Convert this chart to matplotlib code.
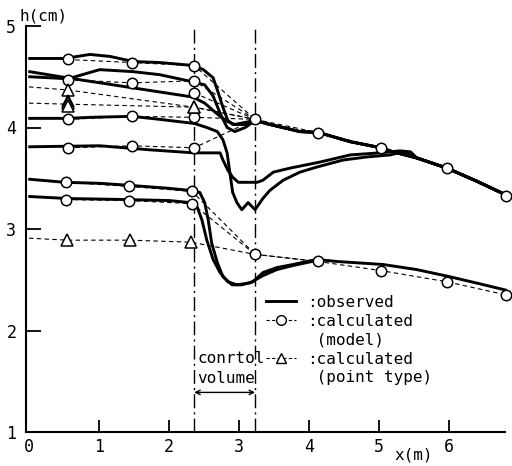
import matplotlib
matplotlib.use("Agg")
import matplotlib.pyplot as plt
from matplotlib.lines import Line2D
import numpy as np

plt.rcParams['font.family'] = ['DejaVu Sans Mono', 'DejaVu Sans']

# ---- observed profiles (x in m, h in cm) ----
# common downstream part of the upper runs
down_x = [3.23, 3.44, 3.87, 4.14, 4.59, 5.03, 5.20, 5.54, 5.97, 6.40, 6.83]
down_h = [4.07, 4.03, 3.96, 3.95, 3.86, 3.80, 3.76, 3.70, 3.60, 3.47, 3.33]

obs1_x = [0.01, 0.51, 0.87, 1.16, 1.49, 1.87, 2.36, 2.49, 2.63, 2.70, 2.77, 2.84, 2.91, 3.09]
obs1_h = [4.68, 4.68, 4.72, 4.70, 4.65, 4.64, 4.61, 4.57, 4.49, 4.35, 4.20, 4.07, 4.03, 4.03]

obs2_x = [0.01, 0.56, 1.01, 1.49, 1.87, 2.34, 2.51, 2.63, 2.73, 2.83, 2.94, 3.09]
obs2_h = [4.50, 4.48, 4.57, 4.55, 4.52, 4.45, 4.42, 4.31, 4.14, 4.00, 3.96, 4.00]

obs3_x = [0.01, 0.54, 1.49, 2.34, 2.51, 2.66, 2.80, 2.94]
obs3_h = [4.55, 4.49, 4.39, 4.30, 4.24, 4.15, 4.07, 4.03]

obs4_x = [0.01, 0.56, 0.87, 1.47, 1.87, 2.36, 2.54, 2.69, 2.77, 2.83, 2.87, 2.91,
          2.97, 3.04, 3.13, 3.23, 3.34, 3.44, 3.63, 3.87, 4.11, 4.49, 4.83, 5.16, 5.34]
obs4_h = [4.09, 4.09, 4.10, 4.11, 4.08, 4.04, 4.00, 3.96, 3.88, 3.75, 3.55, 3.36,
          3.26, 3.19, 3.26, 3.19, 3.30, 3.38, 3.48, 3.56, 3.61, 3.68, 3.71, 3.73, 3.76]

obs5_x = [0.01, 1.01, 1.73, 2.36, 2.73, 2.77, 2.84, 2.91, 2.99, 3.26, 3.34, 3.49,
          3.73, 4.16, 4.59, 5.01, 5.30, 5.45]
obs5_h = [3.81, 3.82, 3.78, 3.75, 3.75, 3.68, 3.58, 3.51, 3.46, 3.46, 3.48, 3.56,
          3.60, 3.66, 3.73, 3.75, 3.77, 3.76]

low1_x = [0.01, 0.51, 1.01, 1.44, 2.01, 2.30, 2.44, 2.51, 2.56, 2.61, 2.69, 2.77,
          2.90, 3.04, 3.20, 3.34, 3.54, 3.77, 4.11, 4.40, 5.06, 5.54, 6.01, 6.44, 6.80]
low1_h = [3.49, 3.46, 3.45, 3.43, 3.40, 3.38, 3.36, 3.26, 3.09, 2.86, 2.67, 2.53,
          2.45, 2.45, 2.48, 2.57, 2.62, 2.65, 2.70, 2.68, 2.65, 2.60, 2.53, 2.46, 2.40]

low2_x = [0.01, 0.56, 1.41, 2.01, 2.30, 2.40, 2.47, 2.54, 2.63, 2.73, 2.84, 2.97,
          3.16, 3.34, 3.54, 3.77, 4.11]
low2_h = [3.32, 3.30, 3.29, 3.28, 3.26, 3.22, 3.09, 2.89, 2.70, 2.57, 2.48, 2.45,
          2.47, 2.54, 2.60, 2.64, 2.69]

# ---- calculated (model) ----
mod_up_x = [0.55, 1.47, 2.36]
mod1_h = [4.67, 4.64, 4.61]
mod2_h = [4.47, 4.44, 4.46]
mod3_h = [None, None, 4.34]
mod4_h = [4.08, 4.11, 4.10]
mod5_h = [3.80, 3.82, 3.80]
mod_low_x = [0.53, 1.43, 2.33]
mod6_h = [3.46, 3.42, 3.37]
mod7_h = [3.29, 3.28, 3.25]
cv_x = 3.23
cv_up_h = 4.08
cv_low_h = 2.75
mod_down_x = [3.23, 4.13, 5.03, 5.97, 6.82]
mod_down_up_h = [4.08, 3.95, 3.80, 3.60, 3.33]
mod_down_low_h = [2.75, 2.68, 2.59, 2.48, 2.35]

# ---- calculated (point type) ----
pt1_x = [0.0, 0.55, 2.36]
pt1_h = [4.40, 4.37, 4.20]
pt2_x = [0.0, 0.55, 2.36]
pt2_h = [4.24, 4.23, 4.20]
pt_stack_h = [4.265, 4.24, 4.215]
pt3_x = [0.0, 0.54, 1.44, 2.32]
pt3_h = [2.91, 2.89, 2.89, 2.87]

cv_left, cv_right = 2.36, 3.23

fig = plt.figure(figsize=(5.12, 4.66), dpi=100)
ax = fig.add_axes([26 / 512, 34 / 466, 479 / 512, 406 / 466])

OBS = dict(color='k', lw=2.1, solid_joinstyle='round', zorder=3, clip_on=False)
DASH = dict(color='k', lw=0.8, dashes=(4, 3), zorder=2, clip_on=False)
CIRC = dict(marker='o', ms=7.5, mfc='white', mec='k', mew=1.1, ls='none', zorder=5, clip_on=False)
TRI = dict(marker='^', ms=8, mfc='white', mec='k', mew=1.1, ls='none', zorder=5, clip_on=False)

# observed
ax.plot(obs1_x + down_x, obs1_h + down_h, **OBS)
ax.plot(obs2_x + down_x, obs2_h + down_h, **OBS)
ax.plot(obs3_x + down_x, obs3_h + down_h, **OBS)
ax.plot(obs4_x + down_x[7:], obs4_h + down_h[7:], **OBS)
ax.plot(obs5_x + down_x[7:], obs5_h + down_h[7:], **OBS)
ax.plot(low1_x, low1_h, **OBS)
ax.plot(low2_x, low2_h, **OBS)

# model: upstream points joined to the control-volume exit
for hs in [mod1_h, mod2_h, mod3_h, mod4_h, mod5_h]:
    xs = [x for x, h in zip(mod_up_x, hs) if h is not None]
    ys = [h for h in hs if h is not None]
    ax.plot(xs + [cv_x], ys + [cv_up_h], **DASH)
    ax.plot(xs, ys, **CIRC)
for hs in [mod6_h, mod7_h]:
    ax.plot(mod_low_x + [cv_x], hs + [cv_low_h], **DASH)
    ax.plot(mod_low_x, hs, **CIRC)
ax.plot(mod_down_x, mod_down_up_h, **DASH)
ax.plot(mod_down_x, mod_down_up_h, **CIRC)
ax.plot(mod_down_x, mod_down_low_h, **DASH)
ax.plot(mod_down_x, mod_down_low_h, **CIRC)

# point type
ax.plot(pt1_x + [cv_x], pt1_h + [cv_up_h], **DASH)
ax.plot(pt1_x[1:], pt1_h[1:], **TRI)
ax.plot(pt2_x + [cv_x], pt2_h + [cv_up_h], **DASH)
ax.plot(pt2_x[2:], pt2_h[2:], **TRI)
ax.plot([pt2_x[1]] * len(pt_stack_h), pt_stack_h, **TRI)
ax.plot(pt3_x + [cv_x, mod_down_x[1]], pt3_h + [cv_low_h, mod_down_low_h[1]], **DASH)
ax.plot(pt3_x[1:], pt3_h[1:], **TRI)

# control volume boundaries
for xv in (cv_left, cv_right):
    ax.axvline(xv, color='k', lw=1.0, dashes=(10, 3, 1.5, 3), zorder=1)
ax.annotate('', xy=(cv_left, 1.39), xytext=(cv_right, 1.39),
            arrowprops=dict(arrowstyle='<->', lw=1.0, color='k', shrinkA=0, shrinkB=0,
                            mutation_scale=8))
ax.text(cv_left + 0.04, 1.72, 'conrtol', fontsize=11.5, va='center', ha='left')
ax.text(cv_left + 0.04, 1.53, 'volume', fontsize=11.5, va='center', ha='left')

ax.set_xlim(-0.043, 6.8)
ax.set_ylim(1, 5)
for s in ['top', 'right']:
    ax.spines[s].set_visible(False)
for s in ['left', 'bottom']:
    ax.spines[s].set_linewidth(1.5)

ax.set_xticks(range(0, 7))
ax.set_yticks(range(1, 6))
ax.tick_params(axis='x', direction='in', length=9, width=1.3, pad=4, labelsize=12)
ax.tick_params(axis='y', direction='in', length=11, width=1.3, pad=7, labelsize=12)
for t in ax.yaxis.get_major_ticks():
    if t.get_loc() in (1, 5):
        t.tick1line.set_visible(False)
ax.xaxis.get_major_ticks()[0].tick1line.set_visible(False)

ax.text(-0.13, 5.1, 'h(cm)', fontsize=11.5, ha='left', va='center', clip_on=False)
ax.text(5.49, 0.77, 'x(m)', fontsize=11.5, ha='center', va='center', clip_on=False)

# legend
h_obs = Line2D([], [], color='k', lw=2.1)
h_mod = Line2D([], [], color='k', lw=0.8, dashes=(3, 2), marker='o', ms=7, mfc='white', mec='k')
h_tri = Line2D([], [], color='k', lw=0.8, dashes=(3, 2), marker='^', ms=7.5, mfc='white', mec='k')
h_none = Line2D([], [], alpha=0)
ax.legend([h_obs, h_mod, h_none, h_tri, h_none],
          [':observed', ':calculated', ' (model)', ':calculated', ' (point type)'],
          loc='upper left', bbox_to_anchor=(0.50, 0.338), frameon=False,
          fontsize=11.5, handlelength=1.9, handletextpad=0.7, labelspacing=0.245,
          borderpad=0, borderaxespad=0, numpoints=1)

fig.savefig('out.png', dpi=100)
